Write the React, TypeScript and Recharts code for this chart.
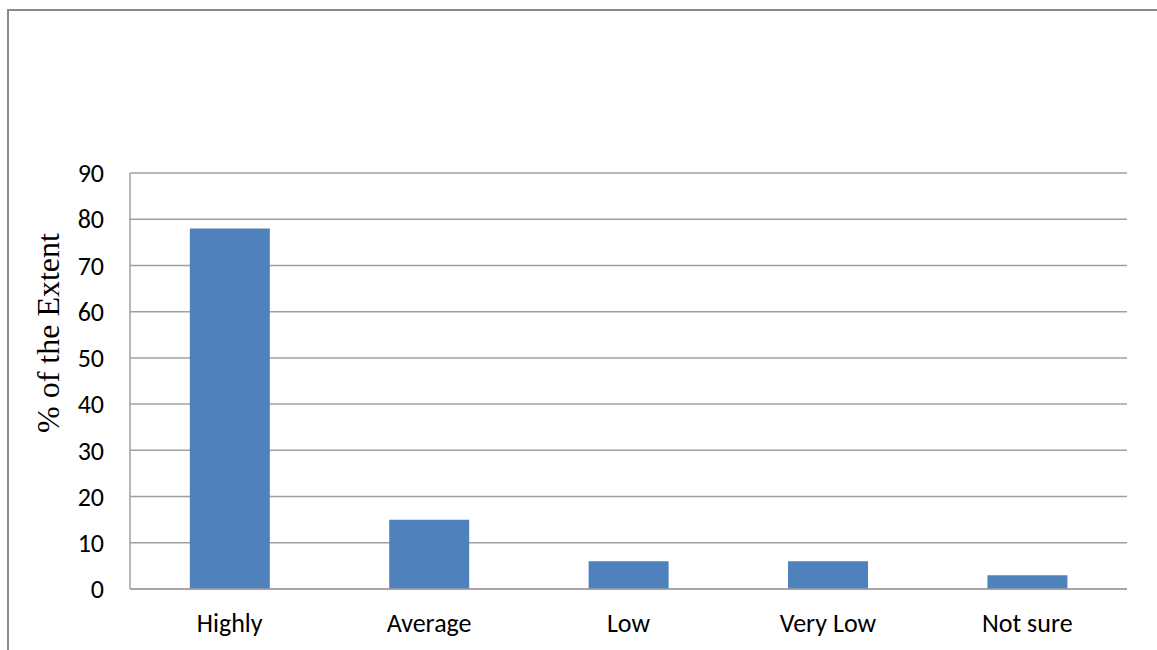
import React from "react";
import { BarChart, Bar, XAxis, YAxis, CartesianGrid } from "recharts";

const categories = ["Highly", "Average", "Low", "Very Low", "Not sure"];
const extentValues = [78, 15, 6, 6, 3];
const yTicks = [0, 10, 20, 30, 40, 50, 60, 70, 80, 90];

const data = categories.map((name, i) => ({ name, value: extentValues[i] }));

const tickFont = "Carlito, Calibri, 'Open Sans', 'Liberation Sans', sans-serif";

function AxisTitle(props: any) {
  const vb = props.viewBox || {};
  const cx = vb.x - 22;
  const cy = vb.y + vb.height / 2 - 48;
  return (
    <text
      x={cx}
      y={cy}
      transform={`rotate(-90, ${cx}, ${cy})`}
      textAnchor="middle"
      dominantBaseline="central"
      fontFamily="'Liberation Serif', 'Times New Roman', serif"
      fontSize={32}
      fill="#000"
    >
      % of the Extent
    </text>
  );
}

export default function App() {
  return (
    <div
      style={{
        position: "fixed",
        left: 0,
        top: 0,
        width: 1157,
        height: 650,
        overflow: "hidden",
        background: "#fff",
      }}
    >
      <div
        style={{
          position: "absolute",
          left: 7,
          top: 9,
          width: 1200,
          height: 700,
          borderLeft: "2px solid #8a8a8a",
          borderTop: "2px solid #8a8a8a",
        }}
      />
      <div style={{ position: "absolute", left: 0, top: 0 }}>
        <BarChart
          width={1157}
          height={650}
          data={data}
          margin={{ top: 173, right: 30, left: 70, bottom: 21 }}
          barCategoryGap="30%"
        >
          <CartesianGrid
            vertical={false}
            stroke="#a0a0a0"
            strokeWidth={1.5}
          />
          <XAxis
            dataKey="name"
            height={40}
            axisLine={{ stroke: "#a0a0a0", strokeWidth: 1.5 }}
            tickLine={false}
            tickSize={6}
            tickMargin={19}
            tick={{ fill: "#000", fontSize: 26, fontFamily: tickFont }}
            interval={0}
          />
          <YAxis
            width={60}
            domain={[0, 90]}
            ticks={yTicks}
            interval={0}
            axisLine={{ stroke: "#a0a0a0", strokeWidth: 1.5 }}
            tickLine={false}
            tickSize={6}
            tickMargin={20}
            tick={{ fill: "#000", fontSize: 26, fontFamily: tickFont }}
            label={<AxisTitle />}
          />
          <Bar dataKey="value" fill="#4f81bd" isAnimationActive={false} />
        </BarChart>
      </div>
    </div>
  );
}
